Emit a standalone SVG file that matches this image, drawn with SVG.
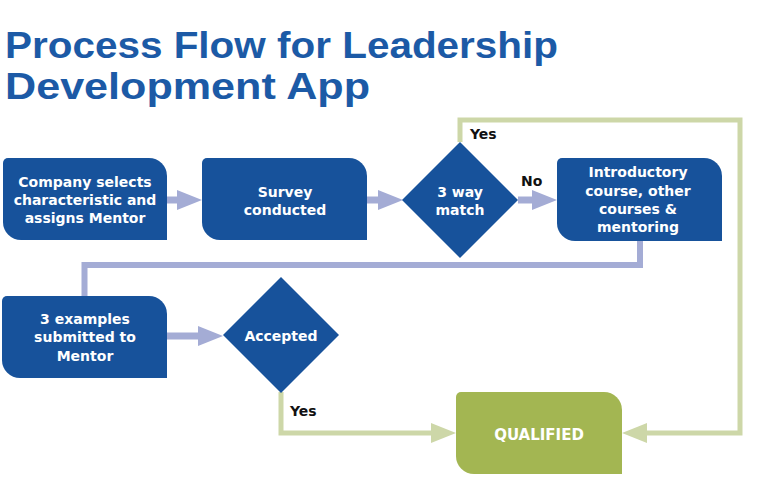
<svg xmlns="http://www.w3.org/2000/svg" width="774" height="488" viewBox="0 0 774 488">
<style>
.title{font-family:"Liberation Sans","Open Sans",sans-serif;font-weight:700;font-size:36px;fill:#1c5aa6}
.box{fill:#17529b}
.qual{fill:#a3b652}
.t{font-family:"DejaVu Sans","Liberation Sans",sans-serif;font-weight:700;font-size:14px;fill:#ffffff;text-anchor:middle}
.tq{font-family:"DejaVu Sans","Liberation Sans",sans-serif;font-weight:700;font-size:15px;fill:#ffffff;text-anchor:middle}
.lbl{font-family:"DejaVu Sans","Liberation Sans",sans-serif;font-weight:700;font-size:14px;fill:#111111}
.cb{fill:none;stroke:#a4acd5;stroke-width:7}
.cl{fill:none;stroke:#a4acd5;stroke-width:6}
.cg{fill:none;stroke:#cdd7a8;stroke-width:5}
</style>
<defs>
<marker id="ab" viewBox="0 0 25 20" refX="2" refY="10" markerWidth="25" markerHeight="20" markerUnits="userSpaceOnUse" orient="auto"><path d="M0,0 L25,10 L0,20 Z" fill="#a4acd5"/></marker>
<marker id="ag" viewBox="0 0 25 20" refX="2" refY="10" markerWidth="25" markerHeight="20" markerUnits="userSpaceOnUse" orient="auto"><path d="M0,0 L25,10 L0,20 Z" fill="#cdd7a8"/></marker>
</defs>
<rect width="774" height="488" fill="#ffffff"/>
<g id="title">
<text class="title" x="5" y="58" textLength="553" lengthAdjust="spacingAndGlyphs">Process Flow for Leadership</text>
<text class="title" x="5" y="99" textLength="365" lengthAdjust="spacingAndGlyphs">Development App</text>
</g>
<g id="connectors">
<path class="cb" d="M167,200 H179" marker-end="url(#ab)"/>
<path class="cb" d="M367,200 H380" marker-end="url(#ab)"/>
<path class="cb" d="M518,200 H534" marker-end="url(#ab)"/>
<path class="cl" d="M640,241 V265 H84.5 V296"/>
<path class="cb" d="M167,336 H200" marker-end="url(#ab)"/>
<path class="cg" d="M281,392 V433 H433" marker-end="url(#ag)"/>
<path class="cg" d="M460,142 V120 H740 V433 H645" marker-end="url(#ag)"/>
<text class="lbl" x="521" y="186">No</text>
<text class="lbl" x="470" y="139">Yes</text>
<text class="lbl" x="290" y="416">Yes</text>
</g>
<g id="n1">
<path class="box" d="M8,158 H149 A18 18 0 0 1 167,176 V240 H21 A18 18 0 0 1 3,222 V163 A5 5 0 0 1 8,158Z"/>
<text class="t" x="85" y="187">Company selects</text>
<text class="t" x="85" y="205">characteristic and</text>
<text class="t" x="85" y="223">assigns Mentor</text>
</g>
<g id="n2">
<path class="box" d="M207,158 H349 A18 18 0 0 1 367,176 V240 H220 A18 18 0 0 1 202,222 V163 A5 5 0 0 1 207,158Z"/>
<text class="t" x="285" y="197">Survey</text>
<text class="t" x="285" y="215">conducted</text>
</g>
<g id="n3">
<polygon class="box" points="460,142 518,200 460,258 402,200"/>
<text class="t" x="460" y="197">3 way</text>
<text class="t" x="460" y="215">match</text>
</g>
<g id="n4">
<path class="box" d="M562,158 H704 A18 18 0 0 1 722,176 V241 H575 A18 18 0 0 1 557,223 V163 A5 5 0 0 1 562,158Z"/>
<text class="t" x="638" y="177">Introductory</text>
<text class="t" x="638" y="196">course, other</text>
<text class="t" x="638" y="214">courses &amp;</text>
<text class="t" x="638" y="232">mentoring</text>
</g>
<g id="n5">
<path class="box" d="M7,296 H149 A18 18 0 0 1 167,314 V378 H20 A18 18 0 0 1 2,360 V301 A5 5 0 0 1 7,296Z"/>
<text class="t" x="85" y="324">3 examples</text>
<text class="t" x="85" y="342">submitted to</text>
<text class="t" x="85" y="361">Mentor</text>
</g>
<g id="n6">
<polygon class="box" points="281,277 339,335 281,393 223,335"/>
<text class="t" x="281" y="341">Accepted</text>
</g>
<g id="n7">
<path class="qual" d="M461,392 H604 A18 18 0 0 1 622,410 V474 H474 A18 18 0 0 1 456,456 V397 A5 5 0 0 1 461,392Z"/>
<text class="tq" x="539" y="440">QUALIFIED</text>
</g>
</svg>
